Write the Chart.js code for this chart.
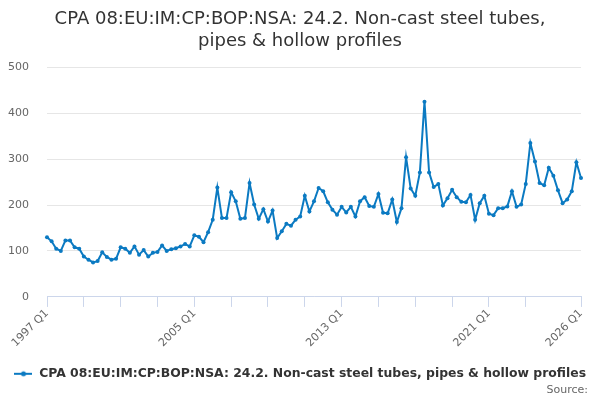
<!DOCTYPE html>
<html>
<head>
<meta charset="utf-8">
<script src="https://cdn.jsdelivr.net/npm/chart.js@4.4.1/dist/chart.umd.min.js"></script>
<style>
  html, body { margin: 0; padding: 0; background: #fff; }
  #wrap { width: 600px; height: 400px; }
</style>
</head>
<body>
<div id="wrap"><canvas id="chart" width="600" height="400"></canvas></div>
<script>
(function() {
    'use strict';

    // Series values, 1997 Q1 .. 2026 Q1
    var values = [
        130, 121, 105, 100, 123, 123, 108, 105,
        88, 81, 75, 78, 97, 87, 81, 83,
        108, 105, 96, 110, 92, 102, 88, 96,
        98, 112, 100, 104, 106, 110, 115, 110,
        134, 131, 119, 141, 168, 238, 172, 172,
        228, 208, 170, 172, 248, 201, 170, 191,
        164, 188, 128, 143, 159, 155, 168, 175,
        220, 186, 208, 237, 230, 206, 190, 179,
        196, 184, 196, 175, 208, 217, 198, 196,
        224, 183, 182, 212, 163, 193, 304, 236,
        220, 271, 425, 271, 239, 246, 199, 215,
        233, 217, 207, 206, 222, 168, 204, 220,
        181, 178, 193, 193, 197, 230, 196, 201,
        246, 335, 295, 248, 243, 281, 264, 232,
        204, 212, 230, 293, 259
    ];

    var firstYear = 1997;
    var tickIndexes = [0, 8, 16, 24, 32, 40, 48, 56, 64, 72, 80, 88, 96, 104, 116];
    var tickLabels = ['1997 Q1', '2005 Q1', '2013 Q1', '2021 Q1', '2026 Q1'];
    var yTicks = [0, 100, 200, 300, 400, 500];

    var seriesName = 'CPA 08:EU:IM:CP:BOP:NSA: 24.2. Non-cast steel tubes, pipes & hollow profiles';
    var titleLines = ['CPA 08:EU:IM:CP:BOP:NSA: 24.2. Non-cast steel tubes,', 'pipes & hollow profiles'];
    var sourceText = 'Source:';
    var blue = '#0b7ac2';

    // Quarter labels for the category axis
    var quarters = [];
    for (var i = 0; i < values.length; i++) {
        quarters.push((firstYear + Math.floor(i / 4)) + ' Q' + (i % 4 + 1));
    }

    // Legend symbol: short line with a dot
    function legendIcon() {
        var c = document.createElement('canvas');
        c.width = 18;
        c.height = 8;
        var g = c.getContext('2d');
        g.strokeStyle = blue;
        g.lineWidth = 2;
        g.beginPath();
        g.moveTo(0, 4);
        g.lineTo(18, 4);
        g.stroke();
        g.fillStyle = blue;
        g.beginPath();
        g.arc(9, 4, 2.5, 0, Math.PI * 2);
        g.fill();
        return c;
    }

    // "Source:" credit, bottom right
    var creditPlugin = {
        id: 'credit',
        afterDraw: function(chart) {
            var g = chart.ctx;
            g.save();
            g.fillStyle = '#666666';
            g.font = '11px "DejaVu Sans", Verdana, sans-serif';
            g.textAlign = 'right';
            g.textBaseline = 'middle';
            g.fillText(sourceText, chart.width - 12, 390);
            g.restore();
        }
    };

    Chart.defaults.font.family = '"DejaVu Sans", Verdana, sans-serif';

    new Chart(document.getElementById('chart'), {
        type: 'line',
        data: {
            labels: quarters,
            datasets: [{
                label: seriesName,
                data: values,
                borderColor: blue,
                backgroundColor: blue,
                borderWidth: 2,
                pointRadius: 2,
                pointBorderWidth: 0,
                pointBackgroundColor: blue,
                tension: 0,
                fill: false,
                clip: 4
            }]
        },
        plugins: [creditPlugin],
        options: {
            responsive: false,
            animation: false,
            layout: {
                padding: { left: 8, right: 8, top: 9, bottom: 10 }
            },
            plugins: {
                title: {
                    display: true,
                    text: titleLines,
                    color: '#333333',
                    font: { size: 18, weight: 'normal' },
                    padding: { top: 0, bottom: 15 }
                },
                legend: {
                    position: 'bottom',
                    labels: {
                        usePointStyle: true,
                        pointStyle: legendIcon(),
                        pointStyleWidth: 19,
                        color: '#333333',
                        font: { size: 12.4, weight: 'bold' },
                        padding: 4
                    }
                },
                tooltip: { enabled: false }
            },
            scales: {
                x: {
                    type: 'category',
                    grid: {
                        drawOnChartArea: false,
                        drawTicks: true,
                        tickLength: 10,
                        color: '#ccd6eb'
                    },
                    border: { color: '#ccd6eb' },
                    afterBuildTicks: function(scale) {
                        scale.ticks = tickIndexes.map(function(v) { return { value: v }; });
                    },
                    afterFit: function(scale) {
                        scale.paddingLeft = 0;
                        scale.paddingRight = 0;
                        scale.height += 14;
                    },
                    ticks: {
                        autoSkip: false,
                        minRotation: 45,
                        maxRotation: 45,
                        color: '#666666',
                        font: { size: 11 },
                        padding: 0,
                        callback: function(value) {
                            var label = quarters[value];
                            return tickLabels.indexOf(label) >= 0 ? label : '';
                        }
                    }
                },
                y: {
                    min: yTicks[0],
                    max: yTicks[yTicks.length - 1],
                    afterBuildTicks: function(scale) {
                        scale.ticks = yTicks.map(function(v) { return { value: v }; });
                    },
                    afterFit: function(scale) {
                        scale.width = 39;
                    },
                    grid: { color: '#e6e6e6', drawTicks: false },
                    border: { display: false },
                    ticks: {
                        color: '#666666',
                        font: { size: 11 },
                        padding: 18
                    }
                },
                // empty right-hand spacer so the plot ends where the reference does
                spacer: {
                    axis: 'y',
                    position: 'right',
                    grid: { display: false },
                    border: { display: false },
                    ticks: { display: false },
                    afterFit: function(scale) {
                        scale.width = 11;
                    }
                }
            }
        }
    });
})();
</script>
</body>
</html>
